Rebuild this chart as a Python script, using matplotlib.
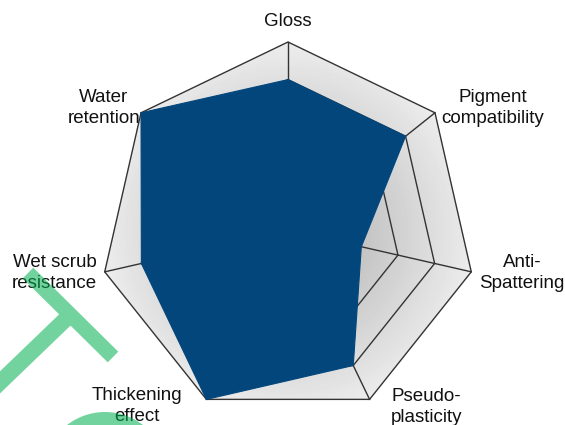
import numpy as np
import matplotlib.pyplot as plt
from matplotlib.patches import Polygon, Circle, PathPatch
from matplotlib.path import Path

plt.rcParams['font.family'] = ['Liberation Sans', 'DejaVu Sans']

# radar data (score 0-5)
categories = ["Gloss", "Pigment\ncompatibility", "Anti-\nSpattering", "Pseudo-\nplasticity",
              "Thickening\neffect", "Wet scrub\nresistance", "Water\nretention"]
values = [4, 4, 2, 4, 5, 4, 5]
levels = [1, 2, 3, 4, 5]
vmax = 5

W, H = 565, 425
fig = plt.figure(figsize=(W / 100, H / 100), dpi=100)
ax = fig.add_axes([0, 0, 1, 1])
ax.set_xlim(0, W)
ax.set_ylim(H, 0)
ax.set_aspect('equal')
ax.axis('off')

cx, cy, R = 288, 230, 188
n = len(categories)
theta = np.pi / 2 - 2 * np.pi * np.arange(n) / n


def pts(rs):
    rs = np.asarray(rs, dtype=float) / vmax * R
    return np.column_stack([cx + rs * np.cos(theta), cy - rs * np.sin(theta)])


# gray radial shading inside the outer heptagon
outer = pts([vmax] * n)
yy, xx = np.mgrid[0:H, 0:W]
rr = np.hypot(xx - cx, yy - cy) / R
shade = np.clip(0.66 + 0.27 * rr, 0, 1)
img = ax.imshow(shade, cmap='gray', vmin=0, vmax=1, extent=(0, W, H, 0), zorder=1)
clip = Polygon(outer, closed=True, transform=ax.transData, facecolor='none', edgecolor='none')
ax.add_patch(clip)
img.set_clip_path(clip)

# rings and spokes
for lv in levels:
    ring = pts([lv] * n)
    ax.add_patch(Polygon(ring, closed=True, fill=False, edgecolor='#333333', lw=1.0, zorder=2))
for x, y in outer:
    ax.plot([cx, x], [cy, y], color='#333333', lw=1.0, zorder=2)

# data polygon
ax.add_patch(Polygon(pts(values), closed=True, facecolor='#02467c', edgecolor='#02467c',
                     lw=0.8, zorder=3))

# labels
offsets = [(0, -21), (58, -5), (51, 1), (57, 8), (-69, 7), (-50, 1), (-37, -5)]
for (x, y), lab, (dx, dy) in zip(outer, categories, offsets):
    ax.text(x + dx, y + dy, lab, ha='center', va='center', fontsize=13.5,
            linespacing=1.32, color='#111111', zorder=4)

# green watermark on top (one path so overlaps are not doubled)
green = '#00b050'


def bar(p0, p1, w):
    p0, p1 = np.array(p0, float), np.array(p1, float)
    d = (p1 - p0) / np.hypot(*(p1 - p0))
    nrm = np.array([-d[1], d[0]]) * w / 2
    return [p0 + nrm, p1 + nrm, p1 - nrm, p0 - nrm, p0 + nrm]


t_verts = bar((28, 273), (113, 357), 15) + bar((70, 315), (-10, 392), 16)
t_codes = ([Path.MOVETO] + [Path.LINETO] * 3 + [Path.CLOSEPOLY]) * 2
ax.add_patch(PathPatch(Path(t_verts, t_codes), facecolor=green, edgecolor='none',
                       alpha=0.55, zorder=5))
ax.add_patch(Circle((105, 474), 62, facecolor=green, edgecolor='none', alpha=0.55, zorder=5))

fig.savefig('out.png', dpi=100)
